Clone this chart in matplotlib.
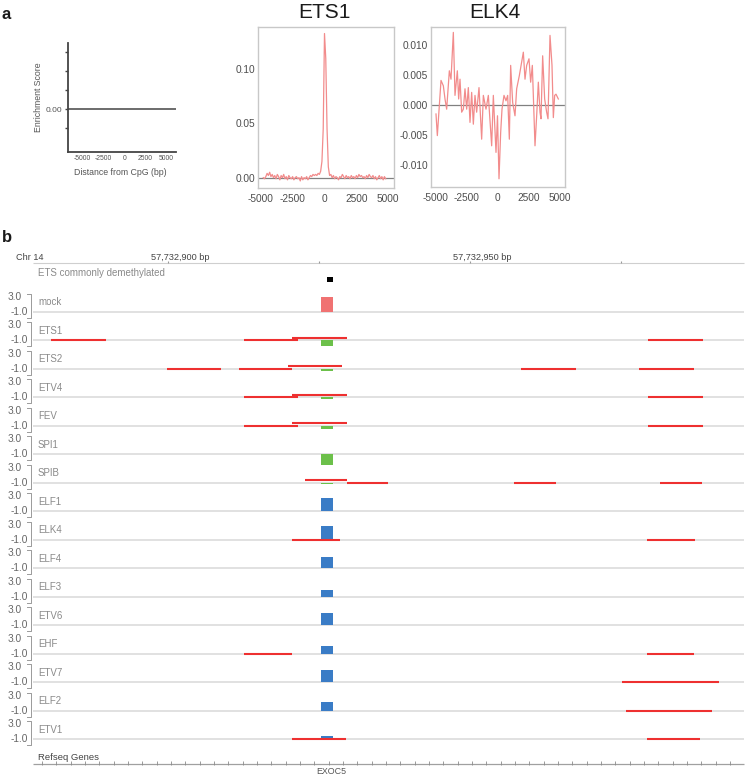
"""Panel a: enrichment profiles around CpGs; panel b: IGV-style browser view at EXOC5."""

import numpy as np
import matplotlib
matplotlib.use("Agg")
from matplotlib import pyplot as plt
from matplotlib import transforms

plt.rcParams['font.family'] = ['Liberation Sans', 'DejaVu Sans']
plt.rcParams['axes.unicode_minus'] = False

W, H = 746, 775

# ---------------- panel a data ----------------
schem_xticks = [-5000, -2500, 0, 2500, 5000]
schem_yticks = [-1, 0, 1, 2, 3]

ets1_x = np.arange(-4800, 4801, 100)
ets1_y = [0.000, -0.001, 0.001, 0.004, 0.002, 0.005, 0.001, 0.003, 0.000, 0.002,
          -0.001, 0.003, 0.001, -0.002, 0.002, 0.000, 0.003, -0.001, 0.001, -0.002,
          0.002, 0.000, -0.001, 0.001, -0.002, 0.000, 0.001, -0.001, 0.000, -0.003,
          0.001, -0.002, 0.000, -0.001, 0.001, -0.002, 0.000, 0.002, 0.001, 0.003,
          0.002, 0.003, 0.002, 0.004, 0.003, 0.006, 0.015, 0.045, 0.133, 0.110,
          0.045, 0.010, 0.002, 0.003, 0.000, 0.002, -0.001, 0.001, 0.000, -0.002,
          0.001, 0.000, 0.003, 0.001, -0.001, 0.002, 0.000, 0.001, -0.001, 0.002,
          0.000, 0.001, -0.001, 0.002, 0.000, 0.003, 0.001, 0.002, 0.000, 0.001,
          -0.001, 0.002, 0.000, 0.003, 0.001, 0.000, 0.002, -0.001, 0.001, -0.002,
          0.000, 0.002, -0.001, 0.001, -0.002, 0.001, -0.001]

elk4_x = [-4920, -4813, -4520, -4333, -4200, -4067, -3853, -3720, -3533, -3400,
          -3213, -3107, -3000, -2867, -2733, -2600, -2467, -2333, -2200, -2067,
          -1933, -1800, -1667, -1480, -1267, -1133, -920, -733, -467, -333,
          -120, 0, 120, 253, 360, 520, 680, 813, 947, 1053,
          1213, 1400, 1533, 1747, 2067, 2200, 2333, 2520, 2653, 2787,
          3000, 3133, 3267, 3400, 3480, 3613, 3773, 3933, 4040, 4200,
          4360, 4467, 4573, 4680, 4867]
elk4_y = [-0.0015, -0.0051, 0.0041, 0.0032, 0.0010, -0.0007, 0.0057, 0.0043, 0.0121, 0.0016,
          0.0057, 0.0010, 0.0043, -0.0012, -0.0007, 0.0027, -0.0007, 0.0029, -0.0029, 0.0021,
          -0.0032, 0.0016, -0.0012, 0.0029, -0.0057, 0.0016, -0.0007, 0.0016, -0.0068, 0.0016,
          -0.0079, -0.0018, -0.0123, -0.0046, -0.0007, 0.0016, 0.0007, 0.0016, -0.0057, 0.0066,
          0.0004, -0.0018, 0.0027, 0.0049, 0.0088, 0.0043, 0.0066, 0.0077, 0.0038, 0.0066,
          -0.0068, -0.0018, 0.0038, -0.0012, -0.0023, 0.0082, 0.0010, -0.0012, -0.0023, 0.0116,
          0.0066, -0.0021, 0.0016, 0.0018, 0.0010]

# ---------------- panel b data ----------------
view_start, view_end = 57732877.65, 57732995.36
ruler_ticks = [57732900, 57732925, 57732950, 57732975]
ruler_labels = {57732900: '57,732,900 bp', 57732950: '57,732,950 bp'}

tracks = ['mock', 'ETS1', 'ETS2', 'ETV4', 'FEV', 'SPI1', 'SPIB', 'ELF1',
          'ELK4', 'ELF4', 'ELF3', 'ETV6', 'EHF', 'ETV7', 'ELF2', 'ETV1']
cpg_start, cpg_width = 57732925.3, 2.0
signal = [3.0, -1.15, -0.46, -0.4, -0.66, -2.1, -0.2, 2.66,
          2.8, 2.34, 1.34, 2.46, 1.46, 2.46, 1.8, 0.66]
signal_group = ['mock'] + ['green'] * 6 + ['blue'] * 9
demeth_start, demeth_end = 57732926.3, 57732927.3

# motif hits: track name, start, end, stacking row
seg_track = ['ETS1', 'ETS1', 'ETS1', 'ETS1',
             'ETS2', 'ETS2', 'ETS2', 'ETS2', 'ETS2',
             'ETV4', 'ETV4', 'ETV4',
             'FEV', 'FEV', 'FEV',
             'SPIB', 'SPIB', 'SPIB', 'SPIB',
             'ELK4', 'ELK4',
             'EHF', 'EHF',
             'ETV7', 'ELF2',
             'ETV1', 'ETV1']
seg_start = [57732880.6, 57732912.6, 57732920.5, 57732979.4,
             57732899.8, 57732911.7, 57732919.8, 57732958.4, 57732978.0,
             57732912.6, 57732920.5, 57732979.4,
             57732912.6, 57732920.5, 57732979.4,
             57732922.7, 57732929.6, 57732957.3, 57732981.5,
             57732920.5, 57732979.3,
             57732912.5, 57732979.3,
             57732975.2, 57732975.8,
             57732920.5, 57732979.3]
seg_end = [57732889.7, 57732921.6, 57732929.6, 57732988.5,
           57732908.8, 57732920.6, 57732928.8, 57732967.5, 57732987.1,
           57732921.5, 57732929.6, 57732988.5,
           57732921.5, 57732929.6, 57732988.5,
           57732929.6, 57732936.5, 57732964.2, 57732988.4,
           57732928.5, 57732987.3,
           57732920.5, 57732987.1,
           57732991.3, 57732990.1,
           57732929.4, 57732988.1]
seg_row = [0, 0, 1, 0,
           0, 0, 1, 0, 0,
           0, 1, 0,
           0, 1, 0,
           1, 0, 0, 0,
           0, 0,
           0, 0,
           0, 0,
           0, 0]

colors = {'mock': '#f07272', 'green': '#6cc04a', 'blue': '#3a7cc6'}
line_red = '#f28c8c'
motif_red = '#ee3030'

fig = plt.figure(figsize=(W / 100, H / 100), dpi=100)


def px_axes(left, top, right, bottom):
    return fig.add_axes([left / W, 1 - bottom / H, (right - left) / W, (bottom - top) / H])


# ---- schematic axis
ax0 = px_axes(68, 43.3, 175.5, 151.7)
ax0.set_xlim(-6700, 6100)
ax0.set_ylim(-2.21, 3.44)
ax0.axhline(0, color='#444444', lw=1.1)
for s in ['top', 'right']:
    ax0.spines[s].set_visible(False)
for s in ['left', 'bottom']:
    ax0.spines[s].set_color('#444444')
    ax0.spines[s].set_linewidth(1.3)
ax0.set_yticks(schem_yticks)
ax0.set_yticklabels(['0.00' if v == 0 else '' for v in schem_yticks])
ax0.set_xticks(schem_xticks)
ax0.set_xticklabels([str(v) for v in schem_xticks])
ax0.tick_params(axis='y', length=2.5, width=1, color='#444444', labelsize=6,
                labelcolor='#555555', pad=1.5)
ax0.tick_params(axis='x', length=0, labelsize=4.9, labelcolor='#555555', pad=2.5)
fig.text(38.3 / W, 1 - 97 / H, 'Enrichment Score', rotation=90, ha='center',
         va='center', fontsize=6.3, color='#555555')
fig.text(120 / W, 1 - 172.7 / H, 'Distance from CpG (bp)', ha='center',
         va='center', fontsize=6.3, color='#555555')


def profile_axes(ax, x, y, xlim, ylim, yticks, fmt):
    ax.plot(x, y, color=line_red, lw=0.9, zorder=3)
    ax.axhline(0, color='#808080', lw=0.9, zorder=2)
    ax.set_xlim(*xlim)
    ax.set_ylim(*ylim)
    ax.set_xticks(schem_xticks)
    ax.set_yticks(yticks)
    ax.set_yticklabels([fmt.format(v) for v in yticks])
    for s in ax.spines.values():
        s.set_color('#c8c8c8')
        s.set_linewidth(1.0)
    ax.tick_params(length=0, labelsize=7.3, labelcolor='#4d4d4d')
    ax.tick_params(axis='y', pad=2)
    ax.tick_params(axis='x', pad=4)


ax1 = px_axes(258.3, 26.7, 394, 188.3)
profile_axes(ax1, ets1_x, ets1_y, (-5190, 5450), (-0.0098, 0.1393),
             [0.0, 0.05, 0.10], '{:.2f}')
ax2 = px_axes(430.7, 26.7, 565, 187.3)
profile_axes(ax2, elk4_x, elk4_y, (-5344, 5400), (-0.01372, 0.01305),
             [-0.010, -0.005, 0.0, 0.005, 0.010], '{:.3f}')
fig.text(324 / W, 1 - 12.3 / H, 'ETS1', ha='center', va='center', fontsize=15, color='#1a1a1a')
fig.text(494.7 / W, 1 - 12.3 / H, 'ELK4', ha='center', va='center', fontsize=15, color='#1a1a1a')

fig.text(6.5 / W, 1 - 14.5 / H, 'a', ha='center', va='center', fontsize=12,
         fontweight='bold', color='#1a1a1a')
fig.text(7 / W, 1 - 237.5 / H, 'b', ha='center', va='center', fontsize=12,
         fontweight='bold', color='#1a1a1a')

# ---- browser view
PX_BP = 6.04        # pixels per base
ROW_PX = 28.47      # pixels per track
VSCALE = 5 / ROW_PX  # track rows per signal unit
LIFT = 2.7 / ROW_PX
base_px, base_bp = 168, 57732900
axb = fig.add_axes([0, 0, 1, 530 / H])
axb.set_xlim(base_bp - base_px / PX_BP, base_bp + (W - base_px) / PX_BP)
axb.set_ylim((775 - 312) / ROW_PX, (245 - 312) / ROW_PX)
axb.axis('off')
lab = transforms.blended_transform_factory(fig.transFigure, axb.transData)

ruler_row = (263 - 312) / ROW_PX
axb.hlines(ruler_row, view_start, view_end, color='#cfcfcf', lw=0.8)
axb.vlines(ruler_ticks, ruler_row - 0.06, ruler_row, color='#9a9a9a', lw=0.8)
for t, s in ruler_labels.items():
    axb.text(t + 2, ruler_row - 0.21, s, ha='center', va='center', fontsize=6.6, color='#444444')
axb.text(16 / W, ruler_row - 0.21, 'Chr 14', transform=lab, ha='left', va='center',
         fontsize=6.6, color='#444444')

demeth_row = (273 - 312) / ROW_PX
axb.text(38 / W, demeth_row, 'ETS commonly demethylated', transform=lab, ha='left',
         va='center', fontsize=7, color='#8a8a8a')
axb.bar((demeth_start + demeth_end) / 2, -0.197, width=demeth_end - demeth_start,
        bottom=-1.043, color='black', lw=0)

for i, name in enumerate(tracks):
    axb.hlines(i, view_start, view_end, color='#d8d8d8', lw=1.1, zorder=1)
    axb.bar(cpg_start + cpg_width / 2, -signal[i] * VSCALE, width=cpg_width, bottom=i,
            color=colors[signal_group[i]], lw=0, zorder=2)
    axb.text(22 / W, i - 3 * VSCALE, '3.0', transform=lab, ha='right', va='center',
             fontsize=7.3, color='#666666')
    axb.text(28 / W, i, '-1.0', transform=lab, ha='right', va='center',
             fontsize=7.3, color='#666666')
    axb.plot([27.5 / W, 31 / W, 31 / W, 27.5 / W],
             [i - 18 / ROW_PX, i - 18 / ROW_PX, i + 6 / ROW_PX, i + 6 / ROW_PX],
             transform=lab, color='#9a9a9a', lw=0.7)
    axb.text(38 / W, i - 9.5 / ROW_PX, name, transform=lab, ha='left', va='center',
             fontsize=7, color='#8a8a8a')

for t, s0, s1, r in zip(seg_track, seg_start, seg_end, seg_row):
    y = tracks.index(t) - r * LIFT
    axb.hlines(y, s0, s1, color=motif_red, lw=1.5, zorder=3)

gene_row = (764 - 312) / ROW_PX
axb.hlines(gene_row, view_start, view_end, color='#a0a0a0', lw=0.9)
arrows = np.arange(view_start + 1.5, view_end, 14.33 / PX_BP)
axb.plot(arrows, [gene_row - 0.03] * len(arrows), ls='none', marker='|', ms=2.2,
         mew=0.6, color='#8a8a8a')
axb.text(38 / W, (757.3 - 312) / ROW_PX, 'Refseq Genes', transform=lab, ha='left',
         va='center', fontsize=6.8, color='#444444')
axb.text(cpg_start + 1.7, (771 - 312) / ROW_PX, 'EXOC5', ha='center', va='center',
         fontsize=6.4, color='#555555')

fig.savefig('out.png', dpi=100)
